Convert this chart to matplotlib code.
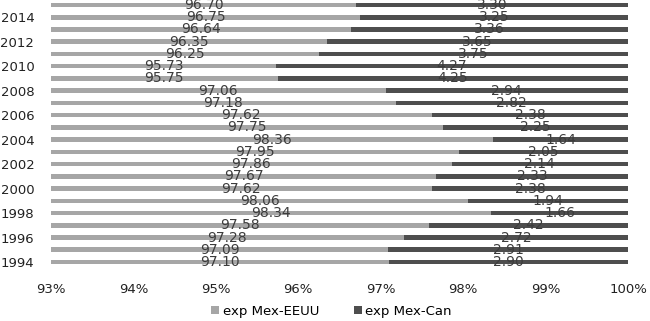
import numpy as np
import matplotlib.pyplot as plt

years = list(range(1994, 2016))
# values read from top (2015) down to 1994, reversed to match years
mex_eeuu = [96.70, 96.75, 96.64, 96.35, 96.25, 95.73, 95.75, 97.06, 97.18, 97.62, 97.75,
            98.36, 97.95, 97.86, 97.67, 97.62, 98.06, 98.34, 97.58, 97.28, 97.09, 97.10][::-1]
mex_can = [3.30, 3.25, 3.36, 3.65, 3.75, 4.27, 4.25, 2.94, 2.82, 2.38, 2.25,
           1.64, 2.05, 2.14, 2.33, 2.38, 1.94, 1.66, 2.42, 2.72, 2.91, 2.90][::-1]
tick_years = [1994, 1996, 1998, 2000, 2002, 2004, 2006, 2008, 2010, 2012, 2014]
xticks = [93, 94, 95, 96, 97, 98, 99, 100]

light = '#a6a6a6'
dark = '#4e4e4e'
txt = '#3c3c3c'

fig = plt.figure(figsize=(6.5, 3.21), dpi=100)
ax = fig.add_axes([51 / 650, 0.1648, 577 / 650, 0.8386])

y = np.arange(len(years))
ax.barh(y, mex_eeuu, height=0.37, color=light, label='exp Mex-EEUU')
ax.barh(y, mex_can, left=mex_eeuu, height=0.37, color=dark, label='exp Mex-Can')

xmin, xmax = 93, 100
for yi, a, b in zip(y, mex_eeuu, mex_can):
    ax.text((xmin + a) / 2, yi, f'{a:.2f}', ha='center', va='center',
            fontsize=10, color=txt)
    ax.text(a + b / 2, yi, f'{b:.2f}', ha='center', va='center',
            fontsize=10, color=txt)

ax.set_xlim(xmin, xmax)
ax.set_ylim(-0.5, len(years) - 0.5)
ax.set_xticks(xticks)
ax.set_xticklabels([f'{v}%' for v in xticks])
ax.set_yticks([years.index(t) for t in tick_years])
ax.set_yticklabels([str(t) for t in tick_years])
ax.tick_params(length=0, labelsize=9.5, colors='#222222')
ax.tick_params(axis='x', pad=11)
ax.tick_params(axis='y', pad=12)
for s in ax.spines.values():
    s.set_visible(False)

fig.legend(loc='center', bbox_to_anchor=(0.51, 0.03), ncol=2, frameon=False,
           fontsize=9.5, handlelength=0.6, handleheight=0.6, handletextpad=0.3,
           columnspacing=2.6)

fig.savefig('out.png', dpi=100)
